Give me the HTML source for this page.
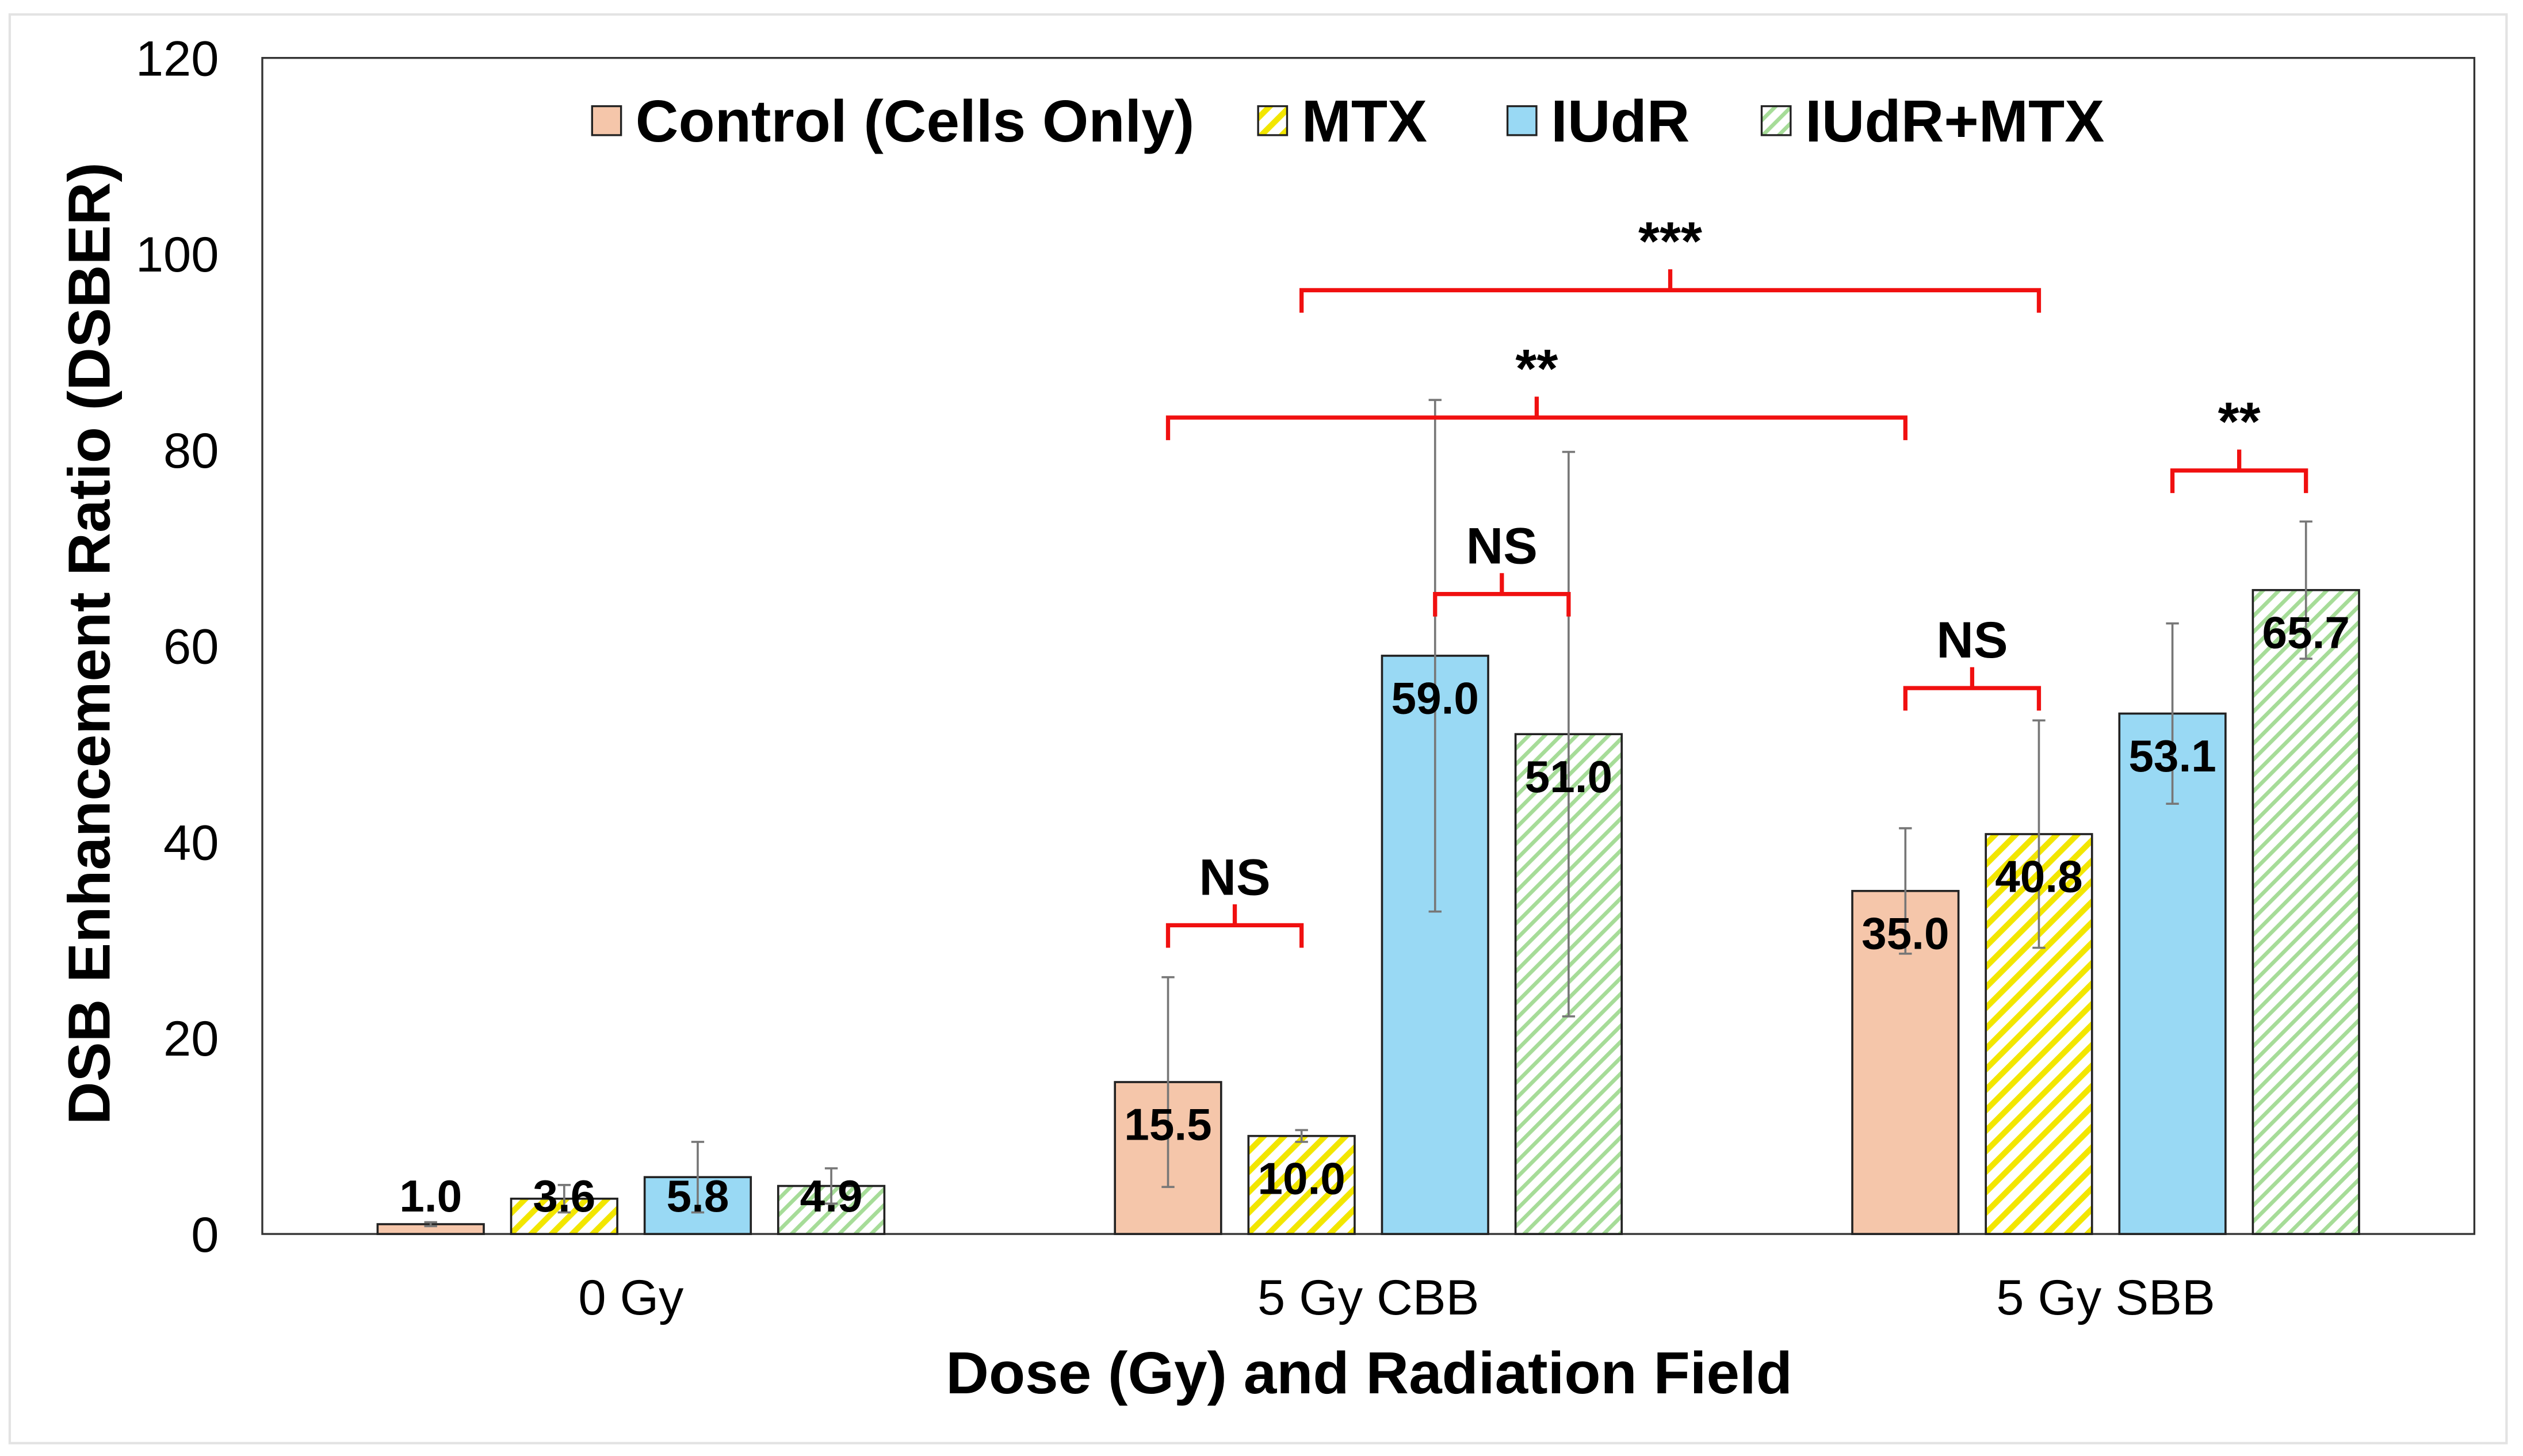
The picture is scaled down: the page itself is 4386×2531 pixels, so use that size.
<!DOCTYPE html>
<html><head><meta charset="utf-8"><style>
html,body{margin:0;padding:0;background:#fff;}
svg{display:block;font-family:"Liberation Sans",Arial,sans-serif;}
</style></head><body>
<svg id="chart" width="4386" height="2531" viewBox="0 0 1568.2 905" xmlns="http://www.w3.org/2000/svg">
<defs>
<pattern id="hatchY" patternUnits="userSpaceOnUse" width="9" height="9" patternTransform="rotate(45)">
<rect width="9" height="9" fill="#fff"/><rect x="0" y="0" width="3.6" height="9" fill="#f2e600"/>
</pattern>
<pattern id="hatchG" patternUnits="userSpaceOnUse" width="7" height="7" patternTransform="rotate(45)">
<rect width="7" height="7" fill="#fff"/><rect x="0" y="0" width="2.4" height="7" fill="#a6dc98"/>
</pattern>
</defs>
<rect x="6" y="9" width="1552" height="888" fill="none" stroke="#e3e3e3" stroke-width="1.5"/>
<g id="plot"></g>
</svg>
<script>
const categories = ["0 Gy", "5 Gy CBB", "5 Gy SBB"];
const seriesNames = ["Control (Cells Only)", "MTX", "IUdR", "IUdR+MTX"];
const controlVals = [1.0, 15.5, 35.0];
const mtxVals = [3.6, 10.0, 40.8];
const iudrVals = [5.8, 59.0, 53.1];
const comboVals = [4.9, 51.0, 65.7];
const controlErr = [0.2, 10.7, 6.4];
const mtxErr = [1.4, 0.6, 11.6];
const iudrErr = [3.6, 26.1, 9.2];
const comboErr = [1.8, 28.8, 7.0];
const yTicks = [0, 20, 40, 60, 80, 100, 120];
// brackets: [catA, seriesA, catB, seriesB, level value, label]
const brackets = [
  [1, 0, 1, 1, 31.5, "NS"],
  [1, 2, 1, 3, 65.3, "NS"],
  [2, 0, 2, 1, 55.7, "NS"],
  [2, 2, 2, 3, 77.9, "**"],
  [1, 0, 2, 0, 83.3, "**"],
  [1, 1, 2, 1, 96.3, "***"]
];

const NS = "http://www.w3.org/2000/svg";
const g = document.getElementById('plot');
const L = 163, R = 1538, T = 36, B = 767, YMAX = 120;
const y = v => B - (v / YMAX) * (B - T);
const catW = (R - L) / categories.length;
const barW = 66, step = 83;
const xBar = (c, s) => L + catW * (c + 0.5) + (s - 1.5) * step;
const fills = ["#f5c6aa", "url(#hatchY)", "#99d9f4", "url(#hatchG)"];
const series = [controlVals, mtxVals, iudrVals, comboVals];
const errs = [controlErr, mtxErr, iudrErr, comboErr];
function mk(tag, attrs, text) {
  const e = document.createElementNS(NS, tag);
  for (const k in attrs) e.setAttribute(k, attrs[k]);
  if (text !== undefined) e.textContent = text;
  g.appendChild(e);
  return e;
}
let fr = mk('rect', {x: L, y: T, width: R - L, height: B - T, fill: 'none', stroke: '#333', 'stroke-width': 1.2});


yTicks.forEach(t => {
  const e = mk('text', {x: 136, y: y(t) + 11, 'text-anchor': 'end', 'font-size': 31, fill: '#000'}, String(t));
  
  
});
series.forEach((vals, s) => {
  vals.forEach((v, c) => {
    const x = xBar(c, s) - barW / 2;
    const r = mk('rect', {x: x, y: y(v), width: barW, height: B - y(v), fill: fills[s], stroke: '#222', 'stroke-width': 1.3});
    
    
  });
});
series.forEach((vals, s) => {
  vals.forEach((v, c) => {
    const xc = xBar(c, s), e = errs[s][c];
    const y1 = y(v + e), y2 = y(v - e);
    const eg = mk('path', {d: `M${xc},${y1}V${y2}M${xc-4},${y1}H${xc+4}M${xc-4},${y2}H${xc+4}`, stroke: '#777', 'stroke-width': 1.3, fill: 'none'});
    
    
  });
});
series.forEach((vals, s) => {
  vals.forEach((v, c) => {
    const cy = Math.min(y(v) + 26, 743);
    const t = mk('text', {x: xBar(c, s), y: cy + 10, 'text-anchor': 'middle', 'font-size': 28, 'font-weight': 'bold', fill: '#000'}, v.toFixed(1));
    
    
  });
});
brackets.forEach(b => {
  const xa = xBar(b[0], b[1]), xb = xBar(b[2], b[3]), yy = y(b[4]), xm = (xa + xb) / 2;
  const p = mk('path', {d: `M${xa},${yy+14}V${yy}H${xb}V${yy+14}M${xm},${yy}V${yy-13}`, stroke: '#f01010', 'stroke-width': 2.6, fill: 'none'});
  
  
  const t = mk('text', {x: xm, y: yy - 19, 'text-anchor': 'middle', 'font-size': b[5] === 'NS' ? 32 : 34, 'font-weight': 'bold', fill: '#000'}, b[5]);
  
  
});
categories.forEach((c, i) => {
  const t = mk('text', {x: L + catW * (i + 0.5), y: 817, 'text-anchor': 'middle', 'font-size': 31, fill: '#000'}, c);
  
  
});
let xt = mk('text', {x: 851, y: 866, 'text-anchor': 'middle', 'font-size': 37, 'font-weight': 'bold', fill: '#000'}, 'Dose (Gy) and Radiation Field');


let yt = mk('text', {x: 0, y: 0, transform: 'translate(68,400) rotate(-90)', 'text-anchor': 'middle', 'font-size': 37, 'font-weight': 'bold', fill: '#000'}, 'DSB Enhancement Ratio (DSBER)');


const legX = [368, 782, 937, 1095];
seriesNames.forEach((n, i) => {
  const r = mk('rect', {x: legX[i], y: 66, width: 18, height: 18, fill: fills[i], stroke: '#222', 'stroke-width': 1.2});
  
  
  const t = mk('text', {x: legX[i] + 27, y: 88, 'font-size': 37, 'font-weight': 'bold', fill: '#000'}, n);
  
  
});
</script>
</body></html>
